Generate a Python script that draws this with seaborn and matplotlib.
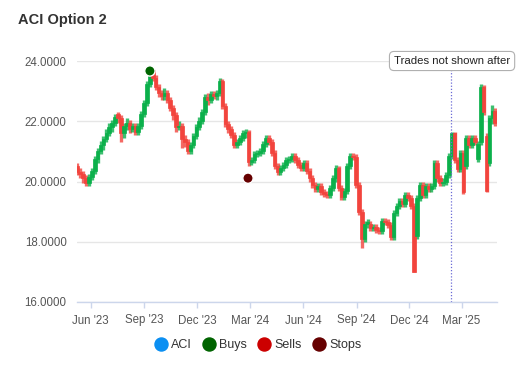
#!/usr/bin/env python3
"""
Candlestick view of ACI prices with trade markers (Option 2)
"""

import pandas as pd
import matplotlib
matplotlib.use("Agg")
import matplotlib.pyplot as plt
import matplotlib.dates as mdates
from matplotlib.lines import Line2D
import seaborn as sns

# Price data: one candle every 5 calendar days
first_day = "2023-05-09"
candle_step = "5D"

opens = [
    20.50, 20.30, 20.25, 20.10, 19.95, 20.15, 20.35, 20.75, 21.00, 21.20,
    21.40, 21.60, 21.80, 21.95, 22.25, 22.10, 21.60, 21.85, 21.95, 21.75,
    21.85, 21.65, 21.85, 22.25, 22.60, 23.25, 23.70, 23.45, 23.15, 22.95,
    22.85, 22.95, 22.70, 22.45, 22.20, 21.80, 21.85, 21.40, 21.30, 21.00,
    21.20, 21.50, 21.80, 22.00, 22.30, 22.80, 22.70, 22.90, 22.85, 22.95,
    23.35, 22.50, 21.90, 21.75, 21.55, 21.20, 21.30, 21.45, 21.60, 21.65,
    20.65, 20.70, 20.90, 20.95, 21.00, 21.25, 21.45, 21.30, 20.95, 20.50,
    20.30, 20.45, 20.55, 20.70, 20.75, 20.85, 20.70, 20.55, 20.45, 20.60,
    20.35, 20.10, 19.90, 19.75, 19.85, 19.65, 19.60, 19.55, 19.80, 20.10,
    20.45, 19.80, 19.50, 19.70, 20.50, 20.85, 20.80, 19.90, 19.00, 18.10,
    18.60, 18.60, 18.45, 18.50, 18.40, 18.35, 18.70, 18.65, 18.55, 18.15,
    18.95, 19.20, 19.35, 19.25, 19.55, 19.45, 19.20, 18.20, 19.45, 19.90,
    19.55, 19.85, 19.75, 19.85, 20.60, 20.10, 19.95, 20.00, 20.20, 20.85,
    21.60, 20.70, 20.40, 20.95, 20.50, 21.45, 21.20, 21.45, 20.75, 21.30,
    23.15, 21.50, 20.60, 22.10, 22.35,
]
closes = [
    20.30, 20.25, 20.10, 19.95, 20.15, 20.35, 20.75, 21.00, 21.20, 21.40,
    21.60, 21.80, 21.95, 22.15, 22.10, 21.60, 21.85, 21.95, 21.75, 21.85,
    21.65, 21.85, 22.25, 22.60, 23.25, 23.70, 23.45, 23.15, 22.95, 22.85,
    22.95, 22.70, 22.45, 22.20, 21.80, 21.85, 21.40, 21.30, 21.00, 21.20,
    21.50, 21.80, 22.00, 22.30, 22.80, 22.70, 22.90, 22.85, 22.95, 23.35,
    22.50, 21.90, 21.75, 21.55, 21.20, 21.30, 21.45, 21.60, 21.65, 20.65,
    20.70, 20.90, 20.95, 21.00, 21.25, 21.45, 21.30, 20.95, 20.50, 20.30,
    20.45, 20.55, 20.70, 20.75, 20.85, 20.70, 20.55, 20.45, 20.60, 20.35,
    20.10, 19.90, 19.75, 19.85, 19.65, 19.60, 19.55, 19.80, 20.10, 20.45,
    19.80, 19.50, 19.70, 20.50, 20.85, 20.80, 19.90, 19.00, 18.10, 18.60,
    18.60, 18.45, 18.50, 18.40, 18.35, 18.70, 18.65, 18.55, 18.15, 18.95,
    19.20, 19.35, 19.25, 19.55, 19.45, 19.20, 17.00, 19.45, 19.90, 19.55,
    19.85, 19.75, 19.85, 20.60, 20.10, 19.95, 20.00, 20.20, 20.85, 21.60,
    20.70, 20.40, 20.95, 19.65, 21.45, 21.20, 21.45, 21.30, 21.25, 23.15,
    22.30, 19.70, 22.10, 22.35, 21.95,
]
highs = [
    20.60, 20.45, 20.35, 20.20, 20.25, 20.45, 20.85, 21.10, 21.35, 21.50,
    21.75, 21.95, 22.05, 22.25, 22.30, 22.20, 21.95, 22.10, 22.05, 21.95,
    21.95, 21.95, 22.35, 22.70, 23.35, 23.85, 23.75, 23.55, 23.25, 23.05,
    23.10, 23.05, 22.80, 22.55, 22.30, 22.00, 21.95, 21.55, 21.40, 21.30,
    21.60, 21.90, 22.15, 22.40, 22.90, 22.95, 23.00, 23.00, 23.05, 23.45,
    23.40, 22.60, 22.00, 21.85, 21.65, 21.40, 21.55, 21.70, 21.75, 21.70,
    20.80, 21.00, 21.05, 21.10, 21.35, 21.55, 21.55, 21.40, 21.05, 20.60,
    20.55, 20.65, 20.80, 20.85, 20.95, 20.95, 20.80, 20.65, 20.70, 20.70,
    20.45, 20.20, 20.00, 19.95, 19.95, 19.75, 19.70, 19.90, 20.20, 20.55,
    20.50, 19.90, 19.80, 20.60, 20.95, 20.95, 20.90, 20.00, 19.10, 18.70,
    18.75, 18.70, 18.60, 18.60, 18.50, 18.80, 18.80, 18.75, 18.65, 19.05,
    19.30, 19.45, 19.45, 19.65, 19.65, 19.55, 19.30, 19.55, 20.00, 20.00,
    19.95, 19.95, 19.95, 20.70, 20.70, 20.20, 20.10, 20.30, 20.95, 21.65,
    21.65, 20.80, 21.05, 21.05, 21.55, 21.55, 21.55, 21.55, 21.35, 23.25,
    23.20, 21.60, 22.20, 22.55, 22.45,
]
lows = [
    20.20, 20.10, 19.95, 19.85, 19.85, 20.05, 20.25, 20.60, 20.90, 21.05,
    21.30, 21.50, 21.65, 21.85, 21.95, 21.30, 21.45, 21.70, 21.60, 21.65,
    21.55, 21.55, 21.75, 22.15, 22.50, 23.15, 23.35, 23.05, 22.80, 22.70,
    22.70, 22.60, 22.35, 22.05, 21.65, 21.70, 21.10, 21.15, 20.90, 20.90,
    21.10, 21.40, 21.70, 21.90, 22.20, 22.55, 22.60, 22.75, 22.70, 22.85,
    22.40, 21.80, 21.60, 21.45, 21.10, 21.10, 21.20, 21.35, 21.45, 20.50,
    20.55, 20.60, 20.80, 20.85, 20.90, 21.15, 21.20, 20.85, 20.40, 20.20,
    20.20, 20.35, 20.45, 20.60, 20.65, 20.60, 20.45, 20.35, 20.35, 20.25,
    20.00, 19.80, 19.65, 19.65, 19.55, 19.50, 19.45, 19.45, 19.70, 20.00,
    19.70, 19.40, 19.40, 19.60, 20.40, 20.70, 19.80, 18.90, 17.80, 18.00,
    18.45, 18.35, 18.35, 18.30, 18.25, 18.25, 18.55, 18.45, 18.05, 18.05,
    18.85, 19.10, 19.15, 19.15, 19.35, 19.10, 17.00, 18.10, 19.35, 19.45,
    19.45, 19.65, 19.65, 19.75, 20.00, 19.85, 19.85, 19.90, 20.10, 20.75,
    20.60, 20.30, 20.30, 19.60, 20.40, 21.10, 21.10, 21.20, 20.65, 21.20,
    22.20, 19.65, 20.50, 21.90, 21.85,
]

# Trades
trade_dates = ["2023-09-11", "2024-02-27"]
trade_prices = [23.67, 20.11]
trade_kinds = ["Buys", "Stops"]

cutoff_date = "2025-02-10"

y_ticks = [16, 18, 20, 22, 24]
x_tick_dates = ["2023-06-01", "2023-09-01", "2023-12-01", "2024-03-01",
                "2024-06-01", "2024-09-01", "2024-12-01", "2025-03-01"]
x_tick_labels = ["Jun '23", "Sep '23", "Dec '23", "Mar '24",
                 "Jun '24", "Sep '24", "Dec '24", "Mar '25"]

legend_names = ["ACI", "Buys", "Sells", "Stops"]
legend_colors = ["#0b8ff2", "#006400", "#cc0000", "#660000"]

UP = "#0bb04b"
DOWN = "#f2443d"

sns.set_theme(style="white")
plt.rcParams['font.family'] = ['Liberation Sans', 'DejaVu Sans']

df = pd.DataFrame({
    'date': pd.date_range(first_day, periods=len(closes), freq=candle_step),
    'open': opens,
    'high': highs,
    'low': lows,
    'close': closes,
})
df['x'] = mdates.date2num(df['date'])
df['bottom'] = df[['open', 'close']].min(axis=1)
df['height'] = (df['close'] - df['open']).abs().clip(lower=0.05)
df['color'] = [UP if c >= o else DOWN for o, c in zip(df['open'], df['close'])]

fig = plt.figure(figsize=(5.3, 3.8), dpi=100)
ax = fig.add_axes([77 / 530, 78 / 380, 420 / 530, 241 / 380])

# Wicks, then candle bodies
ax.vlines(df['x'], df['low'], df['high'], colors=df['color'],
          linewidth=2.4, alpha=0.8, zorder=2)
ax.bar(df['x'], df['height'], bottom=df['bottom'], width=6.2,
       color=df['color'], linewidth=0.5, edgecolor=df['color'], zorder=3)

# Trade markers
trades = pd.DataFrame({
    'x': mdates.date2num(pd.to_datetime(trade_dates)),
    'price': trade_prices,
    'kind': trade_kinds,
})
sns.scatterplot(data=trades, x='x', y='price', hue='kind',
                palette={'Buys': '#006400', 'Stops': '#660000'},
                s=55, edgecolor='white', linewidth=1, zorder=5,
                legend=False, ax=ax)

# Cutoff line
cut_x = mdates.date2num(pd.Timestamp(cutoff_date))
ax.axvline(cut_x, ymin=0, ymax=(23.7 - 16) / 8, color='#6b6bd6',
           linestyle=(0, (1, 1.5)), linewidth=0.9, zorder=4)
fig.text(394 / 530, 1 - 61 / 380, "Trades not shown after", fontsize=8.2,
         color='#222222', va='center', ha='left',
         bbox=dict(boxstyle='round,pad=0.4', facecolor='white',
                   edgecolor='#b0b0b0', linewidth=0.8))

# Axes styling
ax.set_xlim(mdates.date2num(pd.Timestamp("2023-05-08 10:00")),
            mdates.date2num(pd.Timestamp("2025-05-01")))
ax.set_ylim(16, 24)
ax.set_yticks(y_ticks)
ax.set_yticklabels([f"{v:.4f}" for v in y_ticks])
ax.set_xticks(mdates.date2num(pd.to_datetime(x_tick_dates)))
ax.set_xticklabels(x_tick_labels)
ax.set_xlabel("")
ax.set_ylabel("")
ax.grid(axis='y', color='#e6e6e6', linewidth=1)
ax.set_axisbelow(True)
for side in ['top', 'right', 'left']:
    ax.spines[side].set_visible(False)
ax.spines['bottom'].set_color('#ccd6eb')
ax.spines['bottom'].set_linewidth(1)
ax.tick_params(axis='y', length=0, pad=7.5, labelsize=8.3, labelcolor='#555555')
ax.tick_params(axis='x', length=4, width=1, color='#ccd6eb', pad=5,
               labelsize=8.3, labelcolor='#555555', bottom=True)

fig.text(18 / 530, 1 - 20 / 380, "ACI Option 2", fontsize=10.5,
         fontweight='bold', color='#333333', va='center', ha='left')

handles = [Line2D([0], [0], marker='o', linestyle='', markersize=9.4,
                  markerfacecolor=c, markeredgecolor=c) for c in legend_colors]
fig.legend(handles, legend_names, loc='center', bbox_to_anchor=(258 / 530, 1 - 345 / 380),
           ncol=4, frameon=False, fontsize=9, handlelength=1.0, handletextpad=0.3,
           columnspacing=0.9, labelcolor='#333333')

plt.savefig("out.png", dpi=100)
plt.close()
